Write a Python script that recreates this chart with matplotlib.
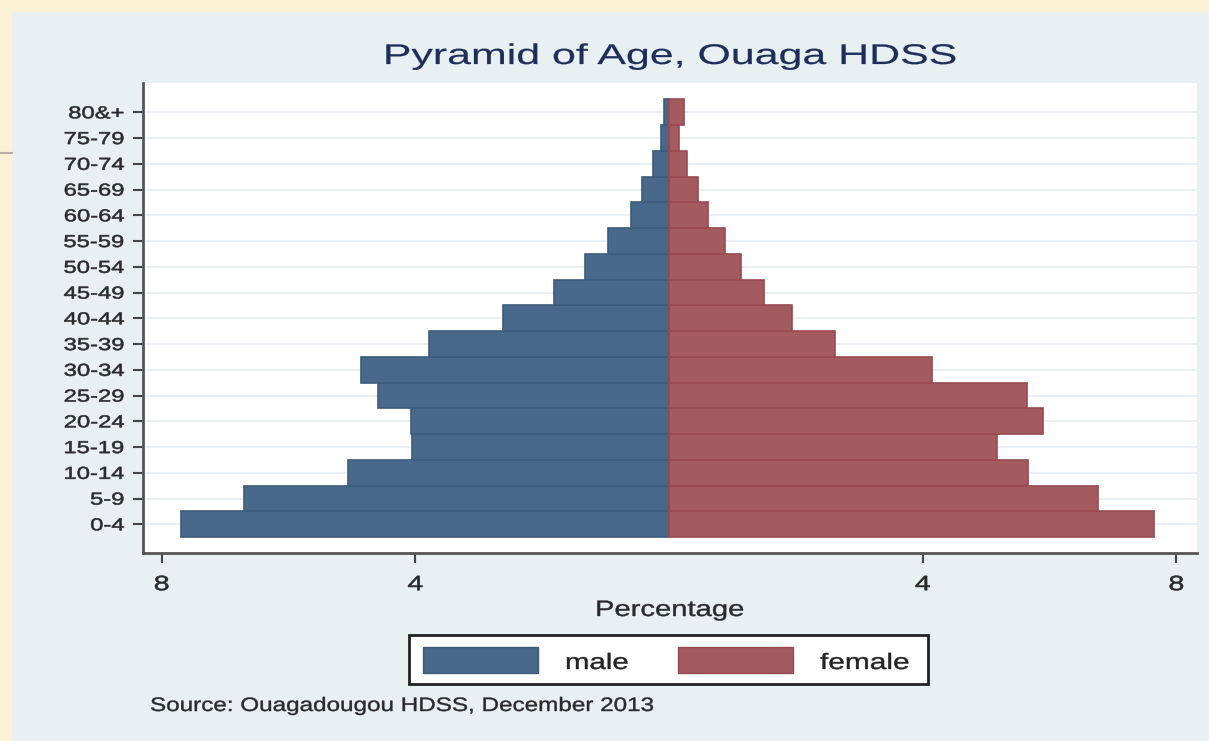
import matplotlib
matplotlib.use("Agg")
import matplotlib.pyplot as plt
from matplotlib.patches import Rectangle
from matplotlib.lines import Line2D
from matplotlib.patheffects import AbstractPathEffect
from matplotlib.transforms import Affine2D

age_groups = ["0-4", "5-9", "10-14", "15-19", "20-24", "25-29", "30-34", "35-39",
              "40-44", "45-49", "50-54", "55-59", "60-64", "65-69", "70-74", "75-79", "80&+"]
male = [7.70, 6.71, 5.07, 4.05, 4.07, 4.59, 4.86, 3.79, 2.62, 1.81, 1.32, 0.96,
        0.60, 0.43, 0.26, 0.13, 0.08]
female = [7.65, 6.77, 5.66, 5.17, 5.90, 5.64, 4.14, 2.62, 1.94, 1.50, 1.14, 0.89,
          0.62, 0.45, 0.29, 0.16, 0.24]
xticks = [-8, -4, 4, 8]
xticklabels = ["8", "4", "4", "8"]


class HStretch(AbstractPathEffect):
    """Stretch text glyphs horizontally (the reference image is widened)."""
    def __init__(self, sx, anchor='left', stroke=0.5):
        super().__init__()
        self.sx = sx
        self.anchor = anchor
        self.stroke = stroke

    def draw_path(self, renderer, gc, tpath, affine, rgbFace=None):
        ext = tpath.get_extents()
        if self.anchor == 'right':
            x0 = ext.x1
        elif self.anchor == 'center':
            x0 = (ext.x0 + ext.x1) / 2
        else:
            x0 = 0
        t = Affine2D().translate(-x0, 0).scale(self.sx, 1).translate(x0, 0) + affine
        gc0 = renderer.new_gc()
        gc0.copy_properties(gc)
        gc0.set_linewidth(self.stroke)
        renderer.draw_path(gc0, tpath, t, rgbFace)
        gc0.restore()


W, H = 1209, 741
plt.rcParams['font.family'] = ['Liberation Sans', 'DejaVu Sans']
fig = plt.figure(figsize=(W / 100, H / 100), dpi=100)
fig.patch.set_facecolor('#FBF1D4')


def fx(px):
    return px / W


def fy(py):
    return 1 - py / H


fig.patches.append(Rectangle((fx(12), 0), 1 - fx(12), fy(12), transform=fig.transFigure,
                             facecolor='#E8F0F2', edgecolor='none', zorder=-10))
fig.lines.append(Line2D([0, fx(12)], [fy(153), fy(153)], transform=fig.transFigure,
                        color='#B8B0A0', linewidth=1.5, zorder=-5))

L, R, T, B = 143.3, 1196.7, 82.7, 552.7
ax = fig.add_axes([fx(L), fy(B), fx(R - L), (B - T) / H])
ax.set_facecolor('white')

male_c, male_e = '#48698A', '#3B5C7D'
fem_c, fem_e = '#A45B60', '#974A51'
y = list(range(len(age_groups)))
ax.barh(y, [-m for m in male], height=1.0, color=male_c, edgecolor=male_e, linewidth=1.2,
        zorder=3)
ax.barh(y, female, height=1.0, color=fem_c, edgecolor=fem_e, linewidth=1.2, zorder=3)

ax.set_xlim(-8.29, 8.32)
ax.set_ylim(-1.10, 17.15)
ax.set_yticks(y)
ax.set_yticklabels(age_groups, fontsize=12.5, color='#2A2A2A')
ax.set_xticks(xticks)
ax.set_xticklabels(xticklabels, fontsize=15, color='#2A2A2A')
ax.tick_params(axis='y', length=7.2, width=1.5, color='#444444', pad=6.5)
ax.tick_params(axis='x', length=7.2, width=1.5, color='#444444', pad=9)
ax.grid(axis='y', color='#E6EEF1', linewidth=1.2, zorder=0)
ax.set_axisbelow(True)
for s in ['top', 'right']:
    ax.spines[s].set_visible(False)
for s in ['left', 'bottom']:
    ax.spines[s].set_color('#555555')
    ax.spines[s].set_linewidth(2)

title = fig.text(fx(670.5), fy(64), "Pyramid of Age, Ouaga HDSS", ha='center',
                 va='baseline', fontsize=20.5, color='#1F2D5C')
xlab = fig.text(fx(670), fy(616), "Percentage", ha='center', va='baseline', fontsize=16,
                color='#2A2A2A')
source = fig.text(fx(150), fy(711), "Source: Ouagadougou HDSS, December 2013", ha='left',
                  va='baseline', fontsize=14, color='#2A2A2A')

# legend (manual, to keep the stretched text inside its frame)
fig.patches.append(Rectangle((fx(409), fy(684)), fx(928 - 409), (684 - 635) / H,
                             transform=fig.transFigure, facecolor='white',
                             edgecolor='#222222', linewidth=2, zorder=2))
fig.patches.append(Rectangle((fx(423), fy(673)), fx(538 - 423), (673 - 647) / H,
                             transform=fig.transFigure, facecolor=male_c,
                             edgecolor=male_e, linewidth=1, zorder=3))
fig.patches.append(Rectangle((fx(678), fy(673)), fx(793 - 678), (673 - 647) / H,
                             transform=fig.transFigure, facecolor=fem_c,
                             edgecolor=fem_e, linewidth=1, zorder=3))
lm = fig.text(fx(565), fy(669), "male", ha='left', va='baseline', fontsize=16,
              color='#222222', zorder=4)
lf = fig.text(fx(820), fy(669), "female", ha='left', va='baseline', fontsize=16,
              color='#222222', zorder=4)

# fit stretched widths to the reference
renderer = fig.canvas.get_renderer()
targets = [(title, 575, 'center', 0.15), (xlab, 150, 'center', 0.3),
           (source, 507, 'left', 0.3), (lm, 64, 'left', 0.3), (lf, 90, 'left', 0.3)]
for txt, target, anc, stroke in targets:
    w = txt.get_window_extent(renderer).width
    txt.set_path_effects([HStretch(target / w, anc, stroke)])

ylabs = ax.get_yticklabels()
sy = 61 / ylabs[age_groups.index("75-79")].get_window_extent(renderer).width
for lab in ylabs:
    lab.set_path_effects([HStretch(sy, 'right', 0.4)])
for lab in ax.get_xticklabels():
    lab.set_path_effects([HStretch(sy, 'center', 0.4)])

fig.savefig("out.png", dpi=100, facecolor=fig.get_facecolor())
